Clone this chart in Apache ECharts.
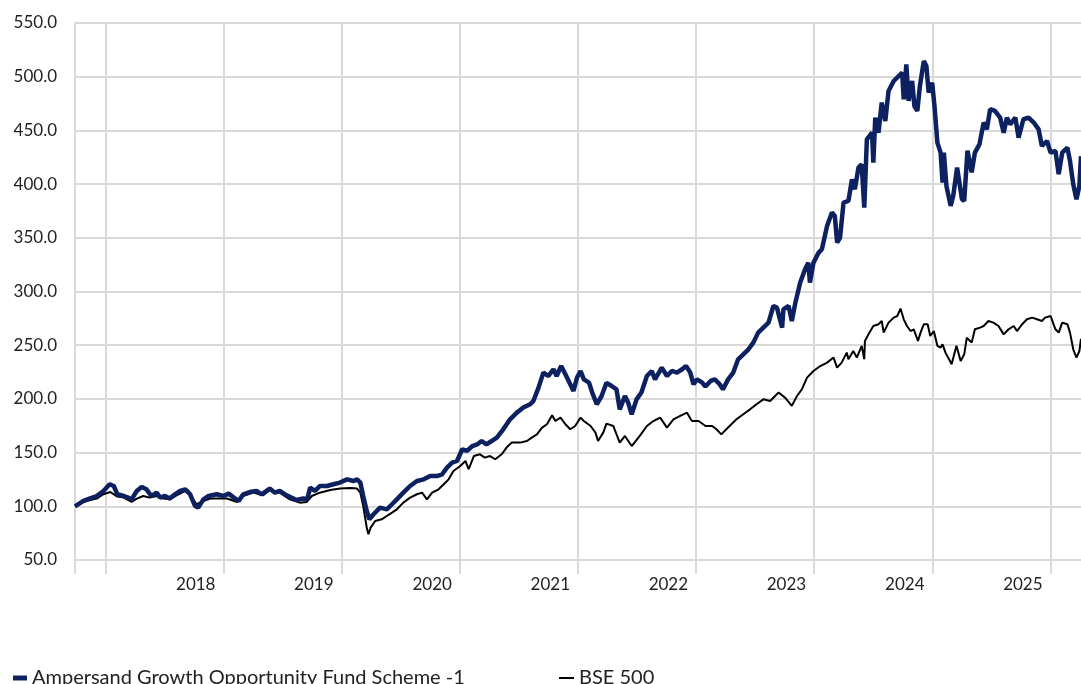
<!DOCTYPE html>
<html>
<head>
<meta charset="utf-8">
<script src="https://cdn.jsdelivr.net/npm/echarts@6/dist/echarts.min.js"></script>
<style>
  html, body { margin: 0; padding: 0; background: #fff; }
  #chart { width: 1081px; height: 684px; }
</style>
</head>
<body>
<div id="chart"></div>
<script>
var fundName = 'Ampersand Growth Opportunity Fund Scheme -1';
var bseName = 'BSE 500';

var fundDates = ['2017-09-29','2017-10-25','2017-11-15','2017-12-05','2017-12-26','2018-01-14','2018-01-27','2018-02-07','2018-02-27','2018-03-12','2018-03-23','2018-04-08','2018-04-23','2018-05-08','2018-05-23','2018-06-09','2018-06-19','2018-07-04','2018-07-19','2018-08-04','2018-08-20','2018-09-05','2018-09-20','2018-10-05','2018-10-15','2018-10-31','2018-11-16','2018-12-11','2019-01-01','2019-01-17','2019-02-02','2019-02-17','2019-03-03','2019-03-23','2019-04-13','2019-04-29','2019-05-24','2019-06-09','2019-06-24','2019-07-15','2019-07-30','2019-08-15','2019-09-05','2019-09-17','2019-09-26','2019-10-11','2019-10-26','2019-11-17','2019-12-07','2019-12-27','2020-01-18','2020-02-08','2020-02-18','2020-02-28','2020-03-08','2020-03-19','2020-03-27','2020-04-09','2020-04-29','2020-05-20','2020-06-05','2020-06-20','2020-07-10','2020-07-31','2020-08-21','2020-09-11','2020-10-01','2020-10-22','2020-11-07','2020-11-22','2020-12-08','2020-12-23','2021-01-08','2021-01-23','2021-02-08','2021-02-24','2021-03-09','2021-03-24','2021-04-09','2021-04-25','2021-05-15','2021-06-05','2021-06-26','2021-07-16','2021-08-06','2021-08-16','2021-09-01','2021-09-16','2021-10-01','2021-10-17','2021-10-27','2021-11-10','2021-11-23','2021-12-08','2021-12-18','2021-12-29','2022-01-09','2022-01-19','2022-02-04','2022-02-14','2022-02-28','2022-03-15','2022-03-30','2022-04-15','2022-04-30','2022-05-10','2022-05-26','2022-06-05','2022-06-16','2022-07-01','2022-07-16','2022-08-02','2022-08-17','2022-08-27','2022-09-17','2022-10-03','2022-10-18','2022-11-03','2022-11-19','2022-12-01','2022-12-14','2022-12-24','2023-01-04','2023-01-20','2023-01-30','2023-02-15','2023-02-28','2023-03-15','2023-03-25','2023-04-10','2023-04-26','2023-05-11','2023-05-27','2023-06-12','2023-06-27','2023-07-12','2023-07-28','2023-08-13','2023-08-28','2023-09-08','2023-09-24','2023-09-28','2023-10-14','2023-10-24','2023-11-04','2023-11-19','2023-12-04','2023-12-14','2023-12-19','2023-12-30','2024-01-15','2024-01-25','2024-02-10','2024-02-25','2024-03-05','2024-03-12','2024-03-21','2024-04-01','2024-04-16','2024-04-27','2024-05-06','2024-05-17','2024-05-27','2024-06-04','2024-06-12','2024-06-28','2024-07-02','2024-07-08','2024-07-18','2024-07-28','2024-08-08','2024-08-18','2024-09-03','2024-09-19','2024-09-29','2024-10-04','2024-10-12','2024-10-19','2024-10-30','2024-11-06','2024-11-15','2024-11-23','2024-12-05','2024-12-13','2024-12-20','2024-12-31','2025-01-07','2025-01-16','2025-01-26','2025-02-01','2025-02-05','2025-02-13','2025-02-26','2025-03-06','2025-03-18','2025-04-02','2025-04-09','2025-04-19','2025-05-02','2025-05-12','2025-05-26','2025-06-08','2025-06-18','2025-06-28','2025-07-13','2025-07-29','2025-08-09','2025-08-19','2025-08-29','2025-09-14','2025-09-24','2025-10-09','2025-10-25','2025-11-10','2025-11-25','2025-12-05','2025-12-21','2026-01-01','2026-01-16','2026-01-26','2026-02-06','2026-02-22','2026-03-02','2026-03-12','2026-03-22','2026-03-31','2026-04-05'];
var fundValues = [100.0,105.0,107.4,109.6,114.3,120.5,118.9,111.2,109.6,108.1,106.5,114.3,118.0,115.8,109.6,112.7,108.1,109.6,107.2,111.2,114.3,115.8,111.2,100.3,98.8,106.5,109.6,111.2,109.6,111.8,108.1,104.9,111.2,113.3,114.3,111.2,116.5,112.7,114.3,110.2,108.1,105.9,107.2,106.5,117.4,114.3,118.9,118.9,120.5,122.1,125.1,123.6,125.1,122.1,109.6,95.6,87.9,92.6,98.8,97.2,101.9,106.5,112.7,118.9,123.6,125.1,128.2,128.2,129.8,136.0,140.7,142.2,153.1,151.5,156.1,157.7,160.8,157.7,160.8,164.0,171.7,181.0,187.2,191.9,195.0,198.0,210.5,224.5,221.3,227.6,221.3,230.6,222.9,213.6,207.4,219.8,226.0,218.2,215.2,205.9,195.0,202.7,215.0,212.0,208.9,190.3,202.7,196.6,185.7,199.6,205.9,221.3,226.0,218.2,229.1,221.3,226.0,224.5,227.6,230.6,224.5,213.6,218.2,215.2,211.5,216.7,218.2,213.6,208.9,218.2,224.5,236.9,241.5,246.2,252.4,261.7,266.4,271.0,286.5,285.0,266.4,283.4,286.5,272.5,289.6,308.3,320.7,326.9,308.3,326.9,336.2,339.3,361.0,373.5,370.3,345.5,350.0,382.8,384.3,404.5,395.2,415.4,418.4,378.1,441.7,447.9,420.0,461.9,447.9,475.9,458.8,486.7,496.0,500.7,503.8,479.0,511.5,477.4,496.0,472.7,468.1,491.4,514.6,510.0,485.2,494.4,472.7,438.6,429.3,401.4,429.3,398.3,379.7,389.0,415.4,385.9,384.3,431.1,411.0,429.3,437.0,457.3,451.0,469.7,468.1,461.9,447.9,461.9,455.7,461.9,443.3,460.4,461.9,457.3,451.0,435.5,440.1,429.3,430.9,409.2,429.3,434.0,421.5,399.8,385.9,398.3,426.0];

var bseDates = ['2017-09-29','2017-10-25','2017-11-15','2017-12-05','2017-12-26','2018-01-16','2018-02-07','2018-02-27','2018-03-23','2018-04-08','2018-04-28','2018-05-18','2018-06-09','2018-06-29','2018-07-19','2018-08-09','2018-09-05','2018-09-20','2018-10-10','2018-10-31','2018-11-21','2018-12-16','2019-01-12','2019-02-12','2019-03-03','2019-04-03','2019-05-03','2019-05-24','2019-06-24','2019-07-25','2019-08-25','2019-09-15','2019-10-01','2019-10-26','2019-11-27','2019-12-27','2020-01-28','2020-02-18','2020-02-28','2020-03-08','2020-03-19','2020-03-24','2020-03-31','2020-04-14','2020-05-04','2020-05-20','2020-06-05','2020-06-20','2020-07-10','2020-07-31','2020-08-21','2020-09-06','2020-09-21','2020-10-07','2020-10-27','2020-11-12','2020-11-27','2020-12-12','2021-01-02','2021-01-18','2021-01-28','2021-02-13','2021-03-04','2021-03-19','2021-04-04','2021-04-20','2021-05-10','2021-05-25','2021-06-10','2021-07-06','2021-07-27','2021-08-11','2021-08-27','2021-09-12','2021-09-27','2021-10-13','2021-10-23','2021-11-08','2021-11-23','2021-12-08','2021-12-23','2022-01-09','2022-01-19','2022-02-09','2022-02-24','2022-03-04','2022-03-20','2022-03-30','2022-04-20','2022-05-10','2022-05-26','2022-06-16','2022-07-11','2022-08-02','2022-08-22','2022-09-12','2022-10-03','2022-10-23','2022-11-13','2022-12-04','2022-12-19','2023-01-09','2023-01-30','2023-02-20','2023-03-05','2023-03-20','2023-04-10','2023-05-06','2023-05-27','2023-06-17','2023-07-07','2023-07-28','2023-08-18','2023-09-13','2023-10-03','2023-10-24','2023-11-09','2023-11-24','2023-12-10','2023-12-30','2024-01-20','2024-02-10','2024-03-01','2024-03-12','2024-03-26','2024-04-11','2024-04-16','2024-05-01','2024-05-12','2024-05-27','2024-06-04','2024-06-06','2024-06-17','2024-07-02','2024-07-18','2024-07-28','2024-08-03','2024-08-18','2024-09-03','2024-09-14','2024-09-24','2024-10-04','2024-10-14','2024-10-25','2024-11-04','2024-11-17','2024-11-25','2024-12-05','2024-12-17','2024-12-25','2025-01-05','2025-01-16','2025-01-26','2025-02-01','2025-02-10','2025-02-24','2025-03-01','2025-03-16','2025-03-29','2025-04-09','2025-04-17','2025-05-02','2025-05-12','2025-05-28','2025-06-08','2025-06-23','2025-07-08','2025-07-24','2025-08-09','2025-08-24','2025-09-09','2025-09-19','2025-10-05','2025-10-20','2025-11-05','2025-11-20','2025-12-05','2025-12-15','2026-01-01','2026-01-16','2026-01-26','2026-02-06','2026-02-22','2026-03-02','2026-03-12','2026-03-22','2026-03-31','2026-04-05'];
var bseValues = [100.0,104.0,105.9,107.2,111.2,113.3,109.0,108.1,104.0,107.2,109.6,108.1,109.6,107.2,106.5,110.2,114.3,110.2,101.9,104.9,107.2,107.2,107.2,104.0,109.6,112.7,110.2,115.2,112.7,106.5,103.4,104.0,109.6,112.7,115.2,116.5,117.0,116.5,112.7,100.3,80.0,74.0,80.2,86.3,87.9,91.0,94.1,97.2,103.4,108.1,111.2,112.7,106.5,112.7,115.8,120.5,125.1,132.9,137.5,142.2,134.5,146.8,148.4,145.3,146.8,143.8,148.4,154.7,159.3,159.3,160.8,164.0,167.0,173.3,176.4,184.7,179.4,182.6,176.4,171.7,174.8,182.6,179.4,174.8,168.6,160.8,168.6,177.0,174.8,159.3,165.5,156.1,165.5,174.8,179.4,182.6,173.3,181.0,184.1,187.2,179.4,179.4,174.8,174.8,171.7,167.0,173.3,181.0,185.7,190.3,195.0,199.6,198.0,205.9,201.2,193.5,202.7,208.9,219.8,226.0,230.6,233.8,238.5,229.1,233.8,243.1,236.9,244.6,238.5,249.4,236.9,253.9,260.1,267.9,269.5,272.5,261.7,271.0,275.7,277.2,284.1,274.1,267.9,263.2,264.8,253.9,261.7,269.5,269.5,258.6,263.2,249.4,247.8,250.9,243.1,235.3,232.2,249.4,235.3,241.5,257.0,252.4,264.8,266.4,267.9,272.5,271.0,267.9,260.1,264.8,267.9,263.2,269.5,274.1,275.7,274.1,272.5,275.7,277.2,264.8,261.7,271.0,269.5,261.7,246.2,238.5,244.6,256.0];

// year gridlines sit on 1 Jan, the year label sits just left of the next one
var yearTicks = ['2018','2019','2020','2021','2022','2023','2024','2025','2026'];
var axisStart = '2017-09-29';
var axisEnd = '2026-04-05';

function ts(s) {
    var p = s.split('-');
    return Date.UTC(+p[0], +p[1] - 1, +p[2]);
}
function pairs(dates, values) {
    return dates.map(function (d, i) { return [ts(d), values[i]]; });
}

var tickVals = [ts(axisStart)].concat(yearTicks.map(function (y) { return ts(y + '-01-01'); }));
var labelVals = yearTicks.slice(1).map(function (y) { return ts(y + '-01-01'); });

var gridColor = '#d9d9d9';
var textColor = '#222';
var font = 'Lato';

var chart = echarts.init(document.getElementById('chart'));
chart.setOption({
    animation: false,
    backgroundColor: '#fff',
    grid: { left: 75, right: 0, top: 23, bottom: 124, outerBoundsMode: 'none' },
    legend: [
        {
            data: [fundName], left: 13, top: 668, padding: 0,
            icon: 'rect', itemWidth: 14, itemHeight: 5,
            textStyle: { fontFamily: font, fontSize: 20, color: textColor }
        },
        {
            data: [bseName], left: 559, top: 668, padding: 0,
            icon: 'rect', itemWidth: 15, itemHeight: 2,
            textStyle: { fontFamily: font, fontSize: 20, color: textColor }
        }
    ],
    xAxis: {
        type: 'value',
        min: ts(axisStart),
        max: ts(axisEnd),
        axisLine: { show: false },
        axisTick: { show: true, length: 14, customValues: tickVals, lineStyle: { color: gridColor, width: 2 } },
        splitLine: { show: true, lineStyle: { color: gridColor, width: 2 } },
        axisLabel: {
            customValues: labelVals,
            margin: 16,
            align: 'right',
            padding: [0, 8, 0, 0],
            fontFamily: font, fontSize: 17, color: textColor,
            formatter: function (v) { return String(new Date(v).getUTCFullYear() - 1); }
        }
    },
    yAxis: {
        type: 'value',
        min: 50, max: 550, interval: 50,
        axisLine: { show: false },
        axisTick: { show: false },
        splitLine: { show: true, lineStyle: { color: gridColor, width: 2 } },
        axisLabel: {
            margin: 18,
            fontFamily: font, fontSize: 17, color: textColor,
            formatter: function (v) { return v.toFixed(1); }
        }
    },
    series: [
        {
            name: bseName, type: 'line', showSymbol: false, symbol: 'none', z: 2,
            color: '#000',
            lineStyle: { color: '#000', width: 2 },
            data: pairs(bseDates, bseValues)
        },
        {
            name: fundName, type: 'line', showSymbol: false, symbol: 'none', z: 3,
            color: '#0d2161',
            lineStyle: { color: '#0d2161', width: 4.5 },
            data: pairs(fundDates, fundValues)
        }
    ]
});
</script>
</body>
</html>
